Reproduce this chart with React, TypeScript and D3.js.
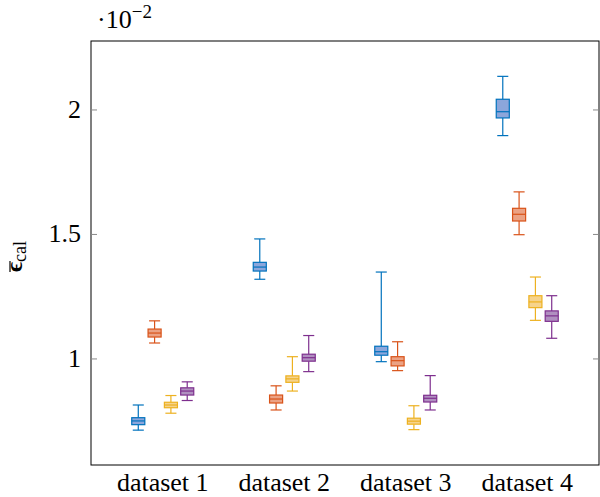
import React from 'react';
import * as d3 from 'd3';

// box stats, one row per dataset: [whiskerLow, q1, median, q3, whiskerHigh] (x 10^-2)
const categories = ['dataset 1', 'dataset 2', 'dataset 3', 'dataset 4'];
const seriesNames = ['blue', 'orange', 'yellow', 'purple'];

const blueBoxes = [
  [0.714, 0.736, 0.751, 0.764, 0.815],
  [1.32, 1.353, 1.369, 1.388, 1.482],
  [0.989, 1.015, 1.029, 1.051, 1.349],
  [1.897, 1.968, 1.993, 2.043, 2.135],
];
const orangeBoxes = [
  [1.064, 1.088, 1.104, 1.12, 1.153],
  [0.795, 0.823, 0.839, 0.855, 0.892],
  [0.953, 0.972, 0.993, 1.009, 1.069],
  [1.499, 1.554, 1.581, 1.605, 1.671],
];
const yellowBoxes = [
  [0.782, 0.804, 0.815, 0.826, 0.853],
  [0.871, 0.906, 0.92, 0.932, 1.009],
  [0.716, 0.738, 0.75, 0.762, 0.812],
  [1.155, 1.206, 1.229, 1.254, 1.329],
];
const purpleBoxes = [
  [0.833, 0.855, 0.871, 0.884, 0.908],
  [0.949, 0.991, 1.005, 1.019, 1.094],
  [0.795, 0.827, 0.842, 0.854, 0.933],
  [1.083, 1.151, 1.173, 1.193, 1.254],
];
const allBoxes = [blueBoxes, orangeBoxes, yellowBoxes, purpleBoxes];

const strokeColors = ['#0072BD', '#D95319', '#EDB120', '#7E2F8E'];
const fillColors = ['#8CA6DB', '#EBA284', '#F6D38C', '#B08FC0'];

const yTicks = [1, 1.5, 2];

export default function App() {
  const width = 600;
  const height = 497;
  const left = 91, right = 599, top = 41, bottom = 465;

  const y = d3.scaleLinear().domain([0.574, 2.277]).range([bottom, top]);
  const x = d3.scaleBand().domain(categories).range([left + 11, right - 11]).padding(0);
  const inner = d3.scaleBand().domain(seriesNames).range([-31, 31]).paddingInner(0.2).paddingOuter(0);

  const font = 'Liberation Serif, serif';
  const bw = inner.bandwidth();

  return (
    <svg width={width} height={height} style={{ position: 'absolute', left: 0, top: 0, fontFamily: font }}>
      <rect x={0} y={0} width={width} height={height} fill="white" />
      {allBoxes.map((boxes, s) =>
        boxes.map((d, c) => {
          const cx = x(categories[c])! + x.bandwidth() / 2 + inner(seriesNames[s])! + bw / 2;
          const x0 = cx - bw / 2;
          const col = strokeColors[s];
          return (
            <g key={`${s}-${c}`}>
              <line x1={cx} x2={cx} y1={y(d[0])} y2={y(d[1])} stroke={col} strokeWidth={1.2} />
              <line x1={cx} x2={cx} y1={y(d[3])} y2={y(d[4])} stroke={col} strokeWidth={1.2} />
              <line x1={x0 + 1} x2={x0 + bw - 1} y1={y(d[0])} y2={y(d[0])} stroke={col} strokeWidth={1.2} />
              <line x1={x0 + 1} x2={x0 + bw - 1} y1={y(d[4])} y2={y(d[4])} stroke={col} strokeWidth={1.2} />
              <rect x={x0} y={y(d[3])} width={bw} height={y(d[1]) - y(d[3])}
                fill={fillColors[s]} stroke={col} strokeWidth={1.2} />
              <line x1={x0} x2={x0 + bw} y1={y(d[2])} y2={y(d[2])} stroke={col} strokeWidth={1.2} />
            </g>
          );
        })
      )}
      {/* frame */}
      <rect x={left} y={top} width={right - left} height={bottom - top} fill="none" stroke="#000" strokeWidth={1} />
      {yTicks.map(t => (
        <g key={t}>
          <line x1={left} x2={left + 6} y1={y(t)} y2={y(t)} stroke="#888" />
          <line x1={right - 6} x2={right} y1={y(t)} y2={y(t)} stroke="#888" />
          <text x={81} y={y(t) + 8} textAnchor="end" fontFamily={font} fontSize={26}>{t}</text>
        </g>
      ))}
      {categories.map(c => (
        <text key={c} x={x(c)! + x.bandwidth() / 2} y={491} textAnchor="middle" fontFamily={font} fontSize={26}>{c}</text>
      ))}
      <text x={97} y={28} fontFamily={font} fontSize={26}>
        ·10<tspan dy={-10} fontSize={19}>−2</tspan>
      </text>
      <g transform={`translate(22, 255) rotate(-90)`}>
        <line x1={-17} x2={-6} y1={-12} y2={-12} stroke="#000" strokeWidth={1.2} />
        <text x={-17} y={0} fontFamily={font} fontSize={24}>
          <tspan fontWeight="bold">ϵ</tspan>
          <tspan dy={4} fontSize={18}>cal</tspan>
        </text>
      </g>
    </svg>
  );
}
